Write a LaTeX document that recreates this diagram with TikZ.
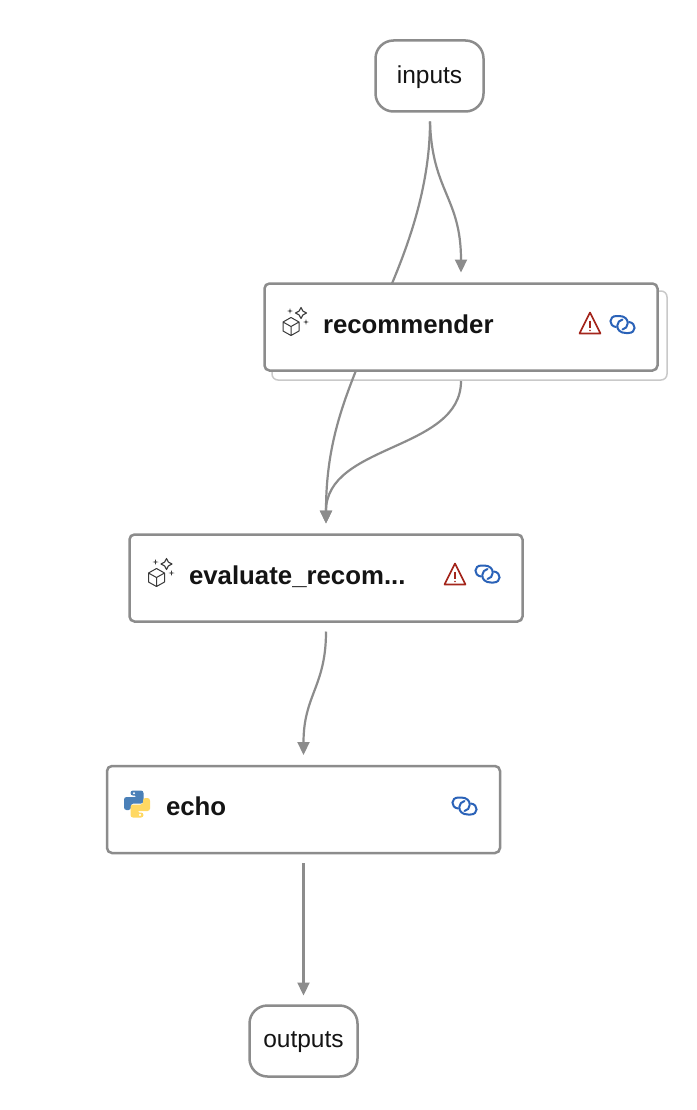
\documentclass[tikz,border=0pt]{standalone}
\usepackage{fontspec}
\setmainfont{Liberation Sans}
\usetikzlibrary{calc,arrows.meta}
\pgfdeclarelayer{shadowlayer}
\pgfdeclarelayer{edgelayer}
\pgfsetlayers{shadowlayer,edgelayer,main}
\definecolor{edgegray}{HTML}{8C8C8C}
\definecolor{shadowgray}{HTML}{C9C9C9}
\definecolor{inkdark}{HTML}{141414}
\definecolor{warnred}{HTML}{A4261C}
\definecolor{linkblue}{HTML}{2A62B8}
\definecolor{pyblue}{HTML}{4A80B8}
\definecolor{pyyellow}{HTML}{FFD862}
\definecolor{icongray}{HTML}{3A3A3A}
\tikzset{
  x=1pt,y=-1pt,
  ionode/.style={draw=edgegray,line width=2.5pt,rounded corners=18pt,fill=white,minimum width=108pt,minimum height=71pt,font=\fontsize{24.5}{28}\selectfont,text=inkdark,outer sep=0pt,inner sep=0pt,text depth=2pt},
  toolnode/.style={draw=edgegray,line width=2.5pt,rounded corners=5pt,fill=white,minimum width=393pt,minimum height=87pt,outer sep=0pt,inner sep=0pt},
  shadownode/.style={draw=shadowgray,line width=1.5pt,rounded corners=6pt,fill=white,minimum width=395pt,minimum height=89pt,outer sep=0pt,inner sep=0pt},
  toollabel/.style={anchor=base west,font=\fontsize{25.8}{30}\selectfont\bfseries,text=inkdark,inner sep=0pt,outer sep=0pt},
  flow/.style={draw=edgegray,line width=2.2pt},
  flowtip/.style={flow,-{Triangle[length=13pt,width=12pt]}},
  cube/.pic={
    \draw[icongray,line width=1pt,line join=round] (-8,-4.5) -- (0,-9) -- (8,-4.5) -- (8,4.5) -- (0,9) -- (-8,4.5) -- cycle (-8,-4.5) -- (0,0) -- (8,-4.5) (0,0) -- (0,9);
    \draw[icongray,line width=1.1pt,line join=round] (10,-19) -- (11.8,-15.5) -- (15.5,-13.5) -- (11.8,-11.5) -- (10,-8) -- (8.2,-11.5) -- (4.5,-13.5) -- (8.2,-15.5) -- cycle;
    \fill[icongray] (-1,-18.5) -- (-.4,-16) -- (2,-15.5) -- (-.4,-15) -- (-1,-12.5) -- (-1.6,-15) -- (-4,-15.5) -- (-1.6,-16) -- cycle;
    \fill[icongray] (15,-7.5) -- (15.6,-5) -- (18,-4.5) -- (15.6,-4) -- (15,-1.5) -- (14.4,-4) -- (12,-4.5) -- (14.4,-5) -- cycle;
  },
  warnicon/.pic={
    \draw[warnred,line width=1.6pt,line join=round] (0,-10.5) -- (10.5,10.5) -- (-10.5,10.5) -- cycle;
    \draw[warnred,line width=1.3pt] (0,-2.5) -- (0,4.5);
    \fill[warnred] (0,7.5) circle (.9);
  },
  linkicon/.pic={
    \draw[linkblue,line width=2pt,line cap=round] (-6.5,2.5) .. controls (-14,1.5) and (-14,-8.5) .. (-6,-8.5) -- (-3.5,-8.5) .. controls (2,-8.5) and (5.5,-5.5) .. (5.2,-1) .. controls (5,2) and (3,4.5) .. (0,5);
    \draw[linkblue,line width=2pt,line cap=round] (6.5,-2.5) .. controls (14,-1.5) and (14,8.5) .. (6,8.5) -- (3.5,8.5) .. controls (-2,8.5) and (-5.5,5.5) .. (-5.2,1) .. controls (-5,-2) and (-3,-4.5) .. (0,-5);
  },
  pyicon/.pic={
    \fill[pyblue,rounded corners=2.5pt] (-6.5,-13.5) -- (6.5,-13.5) -- (6.5,-.5) -- (-6,-.5) -- (-6,6) -- (-13,6) -- (-13,-7) -- (0,-7) -- (0,-8.5) -- (-6.5,-8.5) -- cycle;
    \fill[pyyellow,rounded corners=2.5pt] (6.5,13.5) -- (-6.5,13.5) -- (-6.5,.5) -- (6,.5) -- (6,-6) -- (13,-6) -- (13,7) -- (0,7) -- (0,8.5) -- (6.5,8.5) -- cycle;
    \fill[white] (-3,-10.8) circle (1.2) (3,10.8) circle (1.2);
  }
}
\begin{document}
\begin{tikzpicture}
\useasboundingbox (0,0) rectangle (696,1110);
% nodes
\node[ionode] (inputs) at (429.5,76) {inputs};
\node[toolnode] (recommender) at (461,327) {};
\node[toolnode] (evaluate) at (326,578) {};
\node[toolnode] (echo) at (303.5,809.5) {};
\node[ionode] (outputs) at (303.5,1041) {outputs};
\begin{pgfonlayer}{shadowlayer}
\fill[white] (0,0) rectangle (696,1110);
\node[shadownode] (stack) at (469.5,335.5) {};
\end{pgfonlayer}
% labels
\node[toollabel] (reclabel) at (323,333) {recommender};
\node[toollabel] (evallabel) at (189,584) {evaluate\_recom...};
\node[toollabel] (echolabel) at (166,815) {echo};
% icons
\pic at (291,326.5) {cube};
\pic at (590,323) {warnicon};
\pic at (622.5,324.5) {linkicon};
\pic at (156.5,577.5) {cube};
\pic at (455,574) {warnicon};
\pic at (487.5,574) {linkicon};
\pic at (137,804) {pyicon};
\pic at (464.5,806) {linkicon};
% connectors
\begin{pgfonlayer}{edgelayer}
\draw[flowtip] ($(inputs.south)+(.5,10)$) .. controls +(0,62) and +(18,-43) .. ($(recommender.north)+(-69,0)$) -- ($(recommender.south)+(-105,0)$) .. controls +(-18,45) and +(0,-68) .. ($(evaluate.north)+(0,-11)$);
\draw[flowtip] ($(inputs.south)+(.5,10)$) .. controls +(2,70) and +(0,-75) .. ($(recommender.north)+(0,-11)$);
\draw[flowtip] ($(stack.south)+(-8.5,1)$) .. controls +(0,70) and +(0,-80) .. ($(evaluate.north)+(0,-11)$);
\draw[flowtip] ($(evaluate.south)+(0,10)$) .. controls +(0,55) and +(0,-60) .. ($(echo.north)+(0,-11)$);
\draw[flowtip] ($(echo.south)+(0,10)$) -- ($(outputs.north)+(0,-10)$);
\end{pgfonlayer}
\end{tikzpicture}
\end{document}
